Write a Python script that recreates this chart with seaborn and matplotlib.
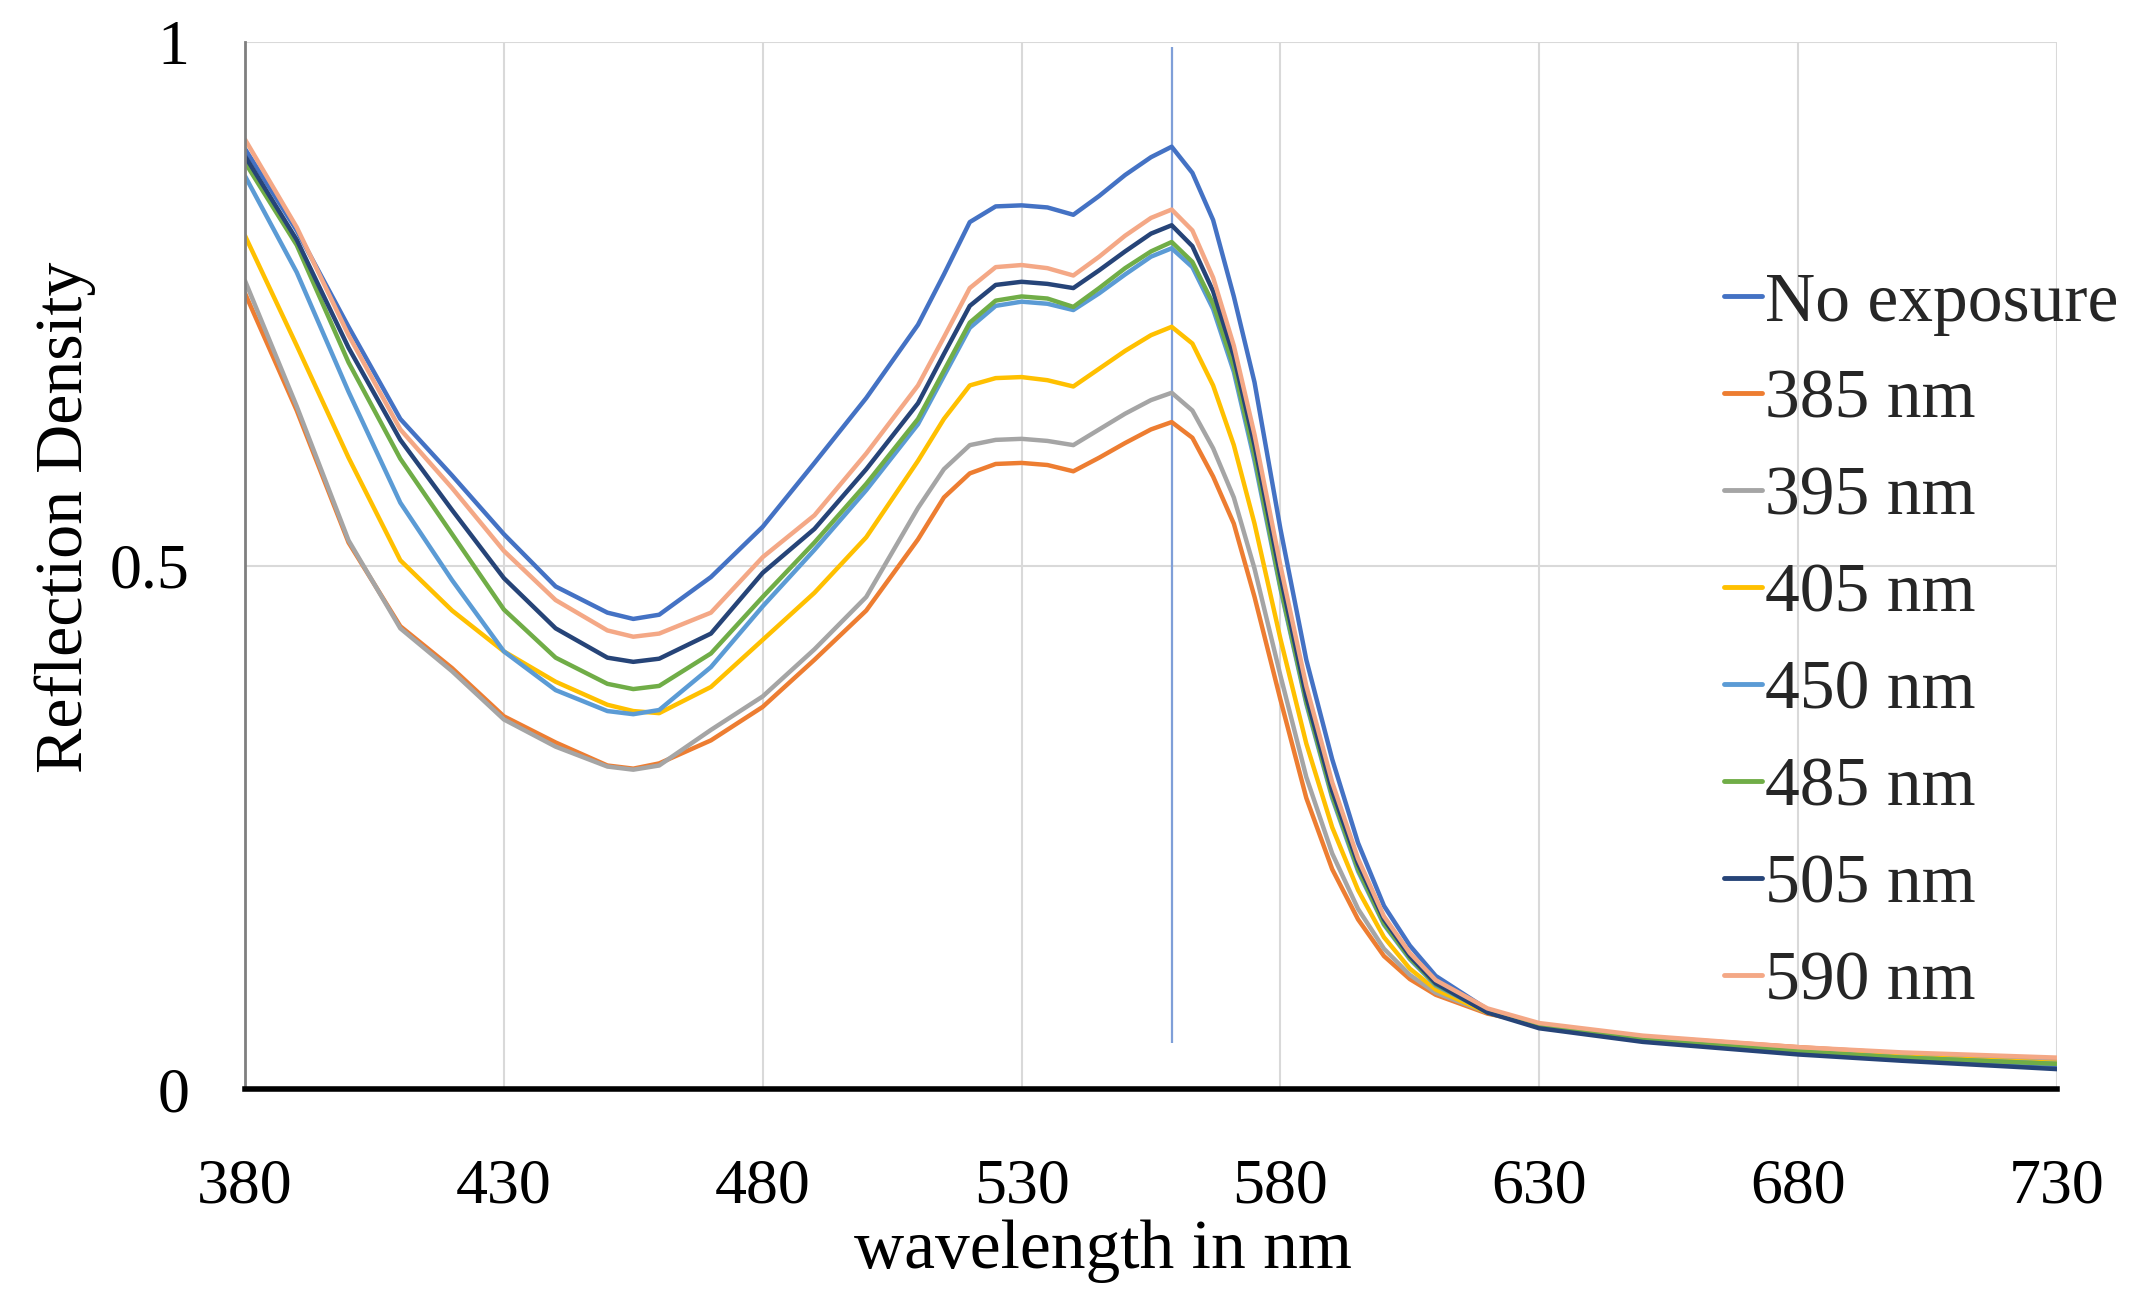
import pandas as pd
import matplotlib.pyplot as plt
import seaborn as sns
from matplotlib.lines import Line2D

# wavelength grid (nm) and reflection density per exposure condition
wavelength = [380, 390, 400, 410, 420, 430, 440, 450, 455, 460, 470, 480, 490, 500,
              510, 515, 520, 525, 530, 535, 540, 545, 550, 555, 559, 563, 567, 571,
              575, 580, 585, 590, 595, 600, 605, 610, 620, 630, 650, 680, 700, 730]

no_exposure = [0.898, 0.820, 0.728, 0.640, 0.586, 0.530, 0.480, 0.455, 0.449, 0.453, 0.489, 0.537, 0.598, 0.660,
               0.730, 0.778, 0.828, 0.843, 0.844, 0.842, 0.835, 0.853, 0.873, 0.890, 0.900, 0.875, 0.830, 0.757,
               0.675, 0.535, 0.410, 0.315, 0.235, 0.175, 0.137, 0.108, 0.076, 0.061, 0.048, 0.036, 0.030, 0.021]
nm385 = [0.760, 0.648, 0.522, 0.442, 0.402, 0.356, 0.331, 0.309, 0.306, 0.311, 0.333, 0.365, 0.410, 0.457,
         0.525, 0.565, 0.588, 0.597, 0.598, 0.596, 0.590, 0.603, 0.617, 0.630, 0.637, 0.622, 0.585, 0.540,
         0.470, 0.372, 0.278, 0.210, 0.162, 0.127, 0.105, 0.090, 0.072, 0.062, 0.050, 0.040, 0.034, 0.028]
nm395 = [0.772, 0.652, 0.524, 0.440, 0.399, 0.353, 0.327, 0.308, 0.305, 0.309, 0.343, 0.375, 0.420, 0.470,
         0.555, 0.592, 0.615, 0.620, 0.621, 0.619, 0.615, 0.630, 0.645, 0.658, 0.665, 0.648, 0.612, 0.565,
         0.497, 0.395, 0.298, 0.225, 0.172, 0.134, 0.109, 0.092, 0.073, 0.061, 0.049, 0.038, 0.032, 0.026]
nm405 = [0.815, 0.710, 0.603, 0.505, 0.457, 0.418, 0.389, 0.367, 0.361, 0.359, 0.384, 0.429, 0.474, 0.527,
         0.600, 0.640, 0.672, 0.679, 0.680, 0.677, 0.671, 0.688, 0.705, 0.720, 0.728, 0.712, 0.672, 0.615,
         0.540, 0.430, 0.330, 0.250, 0.190, 0.145, 0.115, 0.095, 0.073, 0.060, 0.048, 0.037, 0.031, 0.025]
nm450 = [0.872, 0.780, 0.666, 0.560, 0.486, 0.418, 0.381, 0.361, 0.358, 0.362, 0.403, 0.461, 0.515, 0.572,
         0.635, 0.681, 0.727, 0.748, 0.752, 0.750, 0.744, 0.760, 0.778, 0.795, 0.803, 0.785, 0.745, 0.685,
         0.600, 0.478, 0.368, 0.278, 0.208, 0.157, 0.124, 0.099, 0.074, 0.060, 0.047, 0.036, 0.030, 0.024]
nm485 = [0.885, 0.806, 0.694, 0.602, 0.530, 0.458, 0.412, 0.387, 0.382, 0.385, 0.416, 0.470, 0.522, 0.578,
         0.640, 0.686, 0.732, 0.753, 0.757, 0.755, 0.747, 0.765, 0.784, 0.800, 0.809, 0.790, 0.750, 0.690,
         0.605, 0.480, 0.370, 0.280, 0.210, 0.158, 0.125, 0.100, 0.074, 0.060, 0.047, 0.036, 0.030, 0.024]
nm505 = [0.891, 0.811, 0.708, 0.620, 0.553, 0.488, 0.440, 0.412, 0.408, 0.411, 0.435, 0.493, 0.535, 0.592,
         0.655, 0.702, 0.748, 0.768, 0.771, 0.769, 0.765, 0.782, 0.800, 0.817, 0.825, 0.805, 0.762, 0.700,
         0.615, 0.490, 0.375, 0.285, 0.215, 0.162, 0.127, 0.101, 0.073, 0.058, 0.045, 0.033, 0.027, 0.019]
nm590 = [0.907, 0.823, 0.720, 0.630, 0.574, 0.514, 0.467, 0.438, 0.432, 0.435, 0.455, 0.508, 0.548, 0.607,
         0.672, 0.718, 0.765, 0.785, 0.787, 0.784, 0.777, 0.795, 0.815, 0.832, 0.840, 0.820, 0.775, 0.710,
         0.625, 0.500, 0.385, 0.293, 0.220, 0.165, 0.130, 0.104, 0.077, 0.063, 0.051, 0.040, 0.035, 0.030]

series_names = ["No exposure", "385 nm", "395 nm", "405 nm", "450 nm", "485 nm", "505 nm", "590 nm"]
series_values = [no_exposure, nm385, nm395, nm405, nm450, nm485, nm505, nm590]
series_colors = ["#4472C4", "#ED7D31", "#A5A5A5", "#FFC000", "#5B9BD5", "#70AD47", "#264478", "#F4A886"]

# vertical marker line
marker_wl = [559]
marker_lo = [0.044]
marker_hi = [0.995]

df = pd.concat([pd.DataFrame({"wavelength": wavelength, "density": vals, "series": name})
                for name, vals in zip(series_names, series_values)], ignore_index=True)

sns.set_theme(style="whitegrid")
plt.rcParams["font.family"] = ["Liberation Serif", "DejaVu Serif"]

fig = plt.figure(figsize=(21.36, 13.05), dpi=100)
ax = fig.add_axes([0.1147, 0.1655, 0.8483, 0.8023])

sns.lineplot(data=df, x="wavelength", y="density", hue="series", hue_order=series_names,
             palette=series_colors, linewidth=3.2, estimator=None, errorbar=None,
             legend=False, ax=ax)
ax.vlines(marker_wl, marker_lo, marker_hi, color="#7F9FD8", linewidth=1.6, zorder=1)

ax.set_xlim(380, 730)
ax.set_ylim(0, 1)
ax.set_xticks(range(380, 731, 50))
ax.set_yticks([0, 0.5, 1])
ax.set_yticklabels(["0", "0.5", "1"])
ax.grid(True, color="#D9D9D9", linewidth=1.5)
ax.set_axisbelow(True)
for side in ["top", "right"]:
    ax.spines[side].set_visible(False)
ax.spines["left"].set_color("#7F7F7F")
ax.spines["left"].set_linewidth(2)
ax.spines["bottom"].set_color("black")
ax.spines["bottom"].set_linewidth(4)
ax.tick_params(axis="x", length=0, pad=50, labelsize=46, labelcolor="black")
ax.tick_params(axis="y", length=0, pad=40, labelsize=46, labelcolor="black")
ax.set_xlabel("wavelength in nm", fontsize=50, labelpad=2, color="black")
ax.set_ylabel("Reflection Density", fontsize=49, labelpad=10, color="black")
ax.xaxis.label.set_x(0.4735)
ax.yaxis.label.set_y(0.546)

handles = [Line2D([0], [0], color=c, linewidth=3.5) for c in series_colors]
ax.legend(handles, series_names, loc="upper left", bbox_to_anchor=(0.807, 0.7915),
          bbox_transform=fig.transFigure, frameon=False, fontsize=50,
          handlelength=0.55, handletextpad=0.05, labelspacing=0.48,
          borderpad=0, borderaxespad=0)

fig.savefig("out.png", dpi=100)
